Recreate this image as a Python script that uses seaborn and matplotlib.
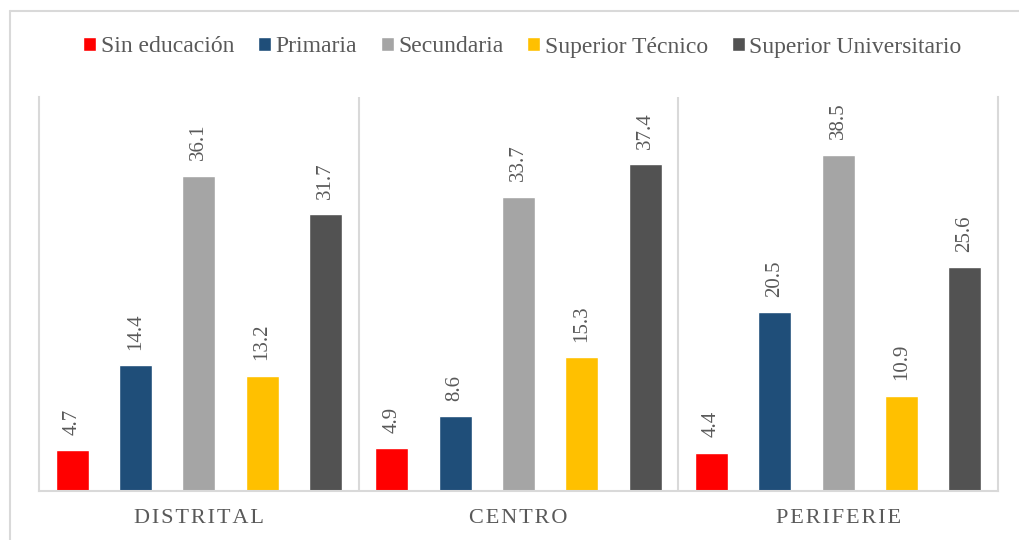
import pandas as pd
import seaborn as sns
import matplotlib.pyplot as plt
from matplotlib.lines import Line2D

# datos (porcentaje por nivel educativo)
zonas = ["DISTRITAL", "CENTRO", "PERIFERIE"]
niveles = ["Sin educación", "Primaria", "Secundaria", "Superior Técnico", "Superior Universitario"]
sin_educacion = [4.7, 4.9, 4.4]
primaria = [14.4, 8.6, 20.5]
secundaria = [36.1, 33.7, 38.5]
superior_tecnico = [13.2, 15.3, 10.9]
superior_univ = [31.7, 37.4, 25.6]
colores = ["#FF0000", "#1F4E79", "#A5A5A5", "#FFC000", "#525252"]

texto = "#595959"
borde = "#D9D9D9"


def set_config():
    sns.set_theme(style="white")
    plt.rcParams["font.family"] = ["Liberation Serif", "DejaVu Serif"]
    plt.rcParams["text.color"] = texto


def main():
    set_config()
    valores = [sin_educacion, primaria, secundaria, superior_tecnico, superior_univ]
    filas = []
    for nivel, vals in zip(niveles, valores):
        for zona, v in zip(zonas, vals):
            filas.append({"zona": zona, "nivel": nivel, "valor": v})
    df = pd.DataFrame(filas)

    fig = plt.figure(figsize=(10.19, 5.4), dpi=100)
    ax = fig.add_axes([39 / 1019, 1 - 491 / 540, (998 - 39) / 1019, (491 - 97) / 540])

    sns.barplot(data=df, x="zona", y="valor", hue="nivel", hue_order=niveles,
                order=zonas, palette=colores, width=0.99, gap=0.48,
                saturation=1, ax=ax, legend=True)

    for cont in ax.containers:
        ax.bar_label(cont, fmt="%.1f", rotation=90, padding=11,
                     fontsize=15, color=texto)

    ax.set_ylim(0, 45.1)
    ax.set_xlim(-0.5, 2.5)
    ax.set_yticks([])
    ax.set_xlabel("")
    ax.set_ylabel("")
    ax.axvline(0.5, color=borde, lw=1.5)
    ax.axvline(1.5, color=borde, lw=1.5)
    for s in ["left", "right", "bottom"]:
        ax.spines[s].set_color(borde)
        ax.spines[s].set_linewidth(1.5)
    ax.spines["top"].set_visible(False)

    # etiquetas con espaciado entre letras
    ax.set_xticks(range(len(zonas)))
    ax.set_xticklabels(["\u200a".join(z) for z in zonas], fontsize=16, color=texto)
    ax.tick_params(axis="x", length=0, pad=13)

    handles, labels = ax.get_legend_handles_labels()
    ax.get_legend().remove()
    fig.legend(handles, labels, loc="center",
               bbox_to_anchor=(0.5 + 13 / 1019, 1 - 47 / 540),
               ncol=5, frameon=False, fontsize=17, handlelength=0.55,
               handleheight=0.55, handletextpad=0.2, columnspacing=1.0,
               labelcolor=texto)

    # marco exterior (solo arriba e izquierda visibles)
    x0, y0 = 9.5 / 1019, 1 - 10.5 / 540
    fig.add_artist(Line2D([x0, 1.0], [y0, y0], transform=fig.transFigure, color=borde, lw=1.5))
    fig.add_artist(Line2D([x0, x0], [0, y0], transform=fig.transFigure, color=borde, lw=1.5))

    fig.savefig("out.png", dpi=100)


if __name__ == "__main__":
    main()
